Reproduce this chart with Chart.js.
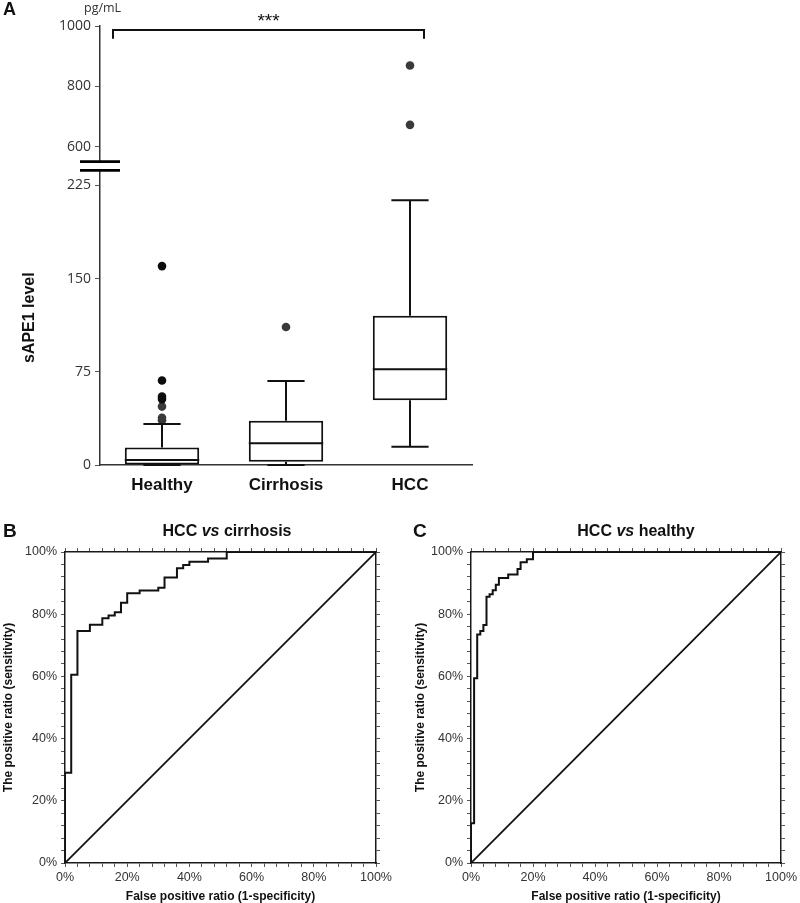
<!DOCTYPE html>
<html>
<head>
<meta charset="utf-8">
<script src="https://cdn.jsdelivr.net/npm/chart.js@4.4.1/dist/chart.umd.min.js"></script>
<style>
  body { margin: 0; background: #fff; }
  #wrap { position: relative; width: 800px; height: 903px; overflow: hidden; font-family: 'Liberation Sans', Arial, sans-serif; }
  canvas { position: absolute; }
  .lbl { position: absolute; line-height: 1; white-space: nowrap; color: #111; }
  .letter { font-weight: bold; font-size: 19px; }
  .ttl { font-weight: bold; font-size: 16px; transform: translateX(-50%); }
</style>
</head>
<body>
<div id="wrap">
  <canvas id="upA" width="480" height="174" style="left:0;top:0"></canvas>
  <canvas id="lowA" width="480" height="347" style="left:0;top:158px"></canvas>
  <canvas id="rocB" width="400" height="393" style="left:0;top:510px"></canvas>
  <canvas id="rocC" width="400" height="393" style="left:400px;top:510px"></canvas>

  <div class="lbl letter" style="left:3px;top:0px;font-size:18px">A</div>
  <div class="lbl" style="left:84px;top:2px;font-size:12.5px;font-family:'Open Sans';color:#333">pg/mL</div>
  <div class="lbl letter" style="left:3px;top:521px">B</div>
  <div class="lbl letter" style="left:413px;top:521px">C</div>
  <div class="lbl ttl" style="left:227px;top:523px">HCC <i>vs</i> cirrhosis</div>
  <div class="lbl ttl" style="left:636px;top:523px">HCC <i>vs</i> healthy</div>
</div>

<script>
//DADOS DO PAINEL A (box plot, pg/mL):
const groups = ['Healthy', 'Cirrhosis', 'HCC']
const whiskerLow = [0, 0, 14.7]
const q1 = [0.5, 2.7, 52]
const median = [4, 17.5, 77]
const q3 = [14, 35.5, 120]
const whiskerHigh = [33, 67.5, 213]
const healthyOutliers = [36, 38, 47, 53, 55, 68, 160]
const cirrhosisOutliers = [111]
const hccOutliers = [672, 869]
const upperTicks = [600, 800, 1000]
const lowerTicks = [0, 75, 150, 225]

//DADOS DAS CURVAS ROC (% falso positivo, % sensibilidade):
const fprB = [0, 0, 2, 4, 8, 12, 14, 16, 18, 20, 24, 30, 32, 36, 38, 40, 46, 52, 100]
const tprB = [0, 29, 60.5, 74.6, 76.6, 78.7, 79.6, 80.6, 83.7, 86.7, 87.6, 88.5, 91.8, 94.8, 95.8, 96.9, 97.9, 100, 100]
const fprC = [0, 0, 1, 2, 3, 4, 5, 6, 7, 8, 9, 12, 15, 16, 18, 20, 100]
const tprC = [0, 12.8, 59.4, 73.5, 74.6, 76.5, 85.6, 86.4, 87.7, 89.5, 91.6, 92.8, 94.5, 96.7, 97.7, 100, 100]
const rocMajor = [0, 20, 40, 60, 80, 100]

Chart.defaults.font.family = "'Liberation Sans', Arial, sans-serif"
Chart.defaults.color = '#333'

let outlierPoints = function(group, values, lo, hi) {
  return values.filter(v => v >= lo && v <= hi).map(v => ({ x: group, y: v }))
}

let allOutliers = function(lo, hi) {
  return [].concat(
    outlierPoints('Healthy', healthyOutliers, lo, hi),
    outlierPoints('Cirrhosis', cirrhosisOutliers, lo, hi),
    outlierPoints('HCC', hccOutliers, lo, hi)
  )
}

let outlierColor = function(c) {
  let p = c.raw
  return (p && p.x === 'Healthy' && p.y > 50) ? '#0d0d0d' : '#3a3a3a'
}

let yAxisA = function(min, max, tickList, title) {
  return {
    min: min, max: max,
    afterBuildTicks: s => { s.ticks = tickList.map(v => ({ value: v })) },
    ticks: { callback: v => String(v), font: { family: "'Open Sans'", size: 14 }, color: '#333', padding: 4 },
    grid: { drawOnChartArea: false, tickLength: 5, color: '#555' },
    border: { color: '#333', width: 1.5 },
    title: title,
    afterFit: s => { s.width = 100 }
  }
}

//Marcas de quebra do eixo
let breakMark = function(atTop) {
  return {
    id: 'break' + (atTop ? 'Top' : 'Bottom'),
    afterDraw(chart) {
      const ctx = chart.ctx, a = chart.chartArea
      const yy = atTop ? a.top : a.bottom
      ctx.save()
      ctx.strokeStyle = '#000'
      ctx.lineWidth = 2.6
      ctx.beginPath()
      ctx.moveTo(a.left - 20, yy)
      ctx.lineTo(a.left + 20, yy)
      ctx.stroke()
      ctx.restore()
    }
  }
}

//Colchete de significância
const bracketPlugin = {
  id: 'bracket',
  afterDraw(chart) {
    const ctx = chart.ctx, x = chart.scales.x, y = chart.scales.y
    const xl = x.getPixelForValue(0) - 49
    const xr = x.getPixelForValue(2) + 14
    const yt = y.getPixelForValue(987)
    const yb = y.getPixelForValue(958)
    ctx.save()
    ctx.strokeStyle = '#111'
    ctx.lineWidth = 2
    ctx.beginPath()
    ctx.moveTo(xl, yb); ctx.lineTo(xl, yt); ctx.lineTo(xr, yt); ctx.lineTo(xr, yb)
    ctx.stroke()
    ctx.fillStyle = '#111'
    ctx.font = "19px 'Liberation Sans', Arial"
    ctx.textAlign = 'center'
    ctx.textBaseline = 'alphabetic'
    ctx.fillText('***', (xl + xr) / 2, 27)
    ctx.restore()
  }
}

//Bigodes e medianas
const whiskerPlugin = {
  id: 'whiskers',
  afterDatasetsDraw(chart) {
    const ctx = chart.ctx, y = chart.scales.y
    const bars = chart.getDatasetMeta(0).data
    ctx.save()
    ctx.strokeStyle = '#111'
    ctx.lineWidth = 2
    bars.forEach((bar, i) => {
      const half = bar.width / 2, cap = bar.width / 4
      const ym = y.getPixelForValue(median[i])
      const yHi = y.getPixelForValue(whiskerHigh[i])
      const yLo = y.getPixelForValue(whiskerLow[i])
      ctx.beginPath()
      ctx.moveTo(bar.x - half, ym); ctx.lineTo(bar.x + half, ym)
      ctx.moveTo(bar.x, y.getPixelForValue(q3[i])); ctx.lineTo(bar.x, yHi)
      ctx.moveTo(bar.x - cap, yHi); ctx.lineTo(bar.x + cap, yHi)
      ctx.moveTo(bar.x, y.getPixelForValue(q1[i])); ctx.lineTo(bar.x, yLo)
      ctx.moveTo(bar.x - cap, yLo); ctx.lineTo(bar.x + cap, yLo)
      ctx.stroke()
    })
    ctx.restore()
  }
}

//PAINEL A - parte superior (600-1000)
new Chart(document.querySelector('#upA'), {
  type: 'scatter',
  data: {
    datasets: [{
      data: allOutliers(550, 1000),
      pointRadius: 4.3, pointBackgroundColor: outlierColor, pointBorderWidth: 0
    }]
  },
  options: {
    responsive: false, animation: false,
    layout: { padding: { top: 26, bottom: 4, left: 0, right: 8 }, autoPadding: false },
    plugins: { legend: { display: false }, tooltip: { enabled: false } },
    scales: {
      x: { type: 'category', labels: groups, offset: true, display: false },
      y: yAxisA(550, 1000, upperTicks, { display: false })
    }
  },
  plugins: [breakMark(false), bracketPlugin]
})

//PAINEL A - parte inferior (0-225)
new Chart(document.querySelector('#lowA'), {
  type: 'bar',
  data: {
    labels: groups,
    datasets: [{
      data: groups.map((g, i) => [q1[i], q3[i]]),
      backgroundColor: '#fff', borderColor: '#111', borderWidth: 2, borderSkipped: false,
      barPercentage: 0.6, categoryPercentage: 1
    }, {
      type: 'scatter',
      data: allOutliers(0, 237),
      pointRadius: 4.3, pointBackgroundColor: outlierColor, pointBorderWidth: 0
    }]
  },
  options: {
    responsive: false, animation: false,
    layout: { padding: { top: 4, bottom: 0, left: 0, right: 8 }, autoPadding: false },
    plugins: { legend: { display: false }, tooltip: { enabled: false } },
    scales: {
      x: {
        ticks: { font: { size: 17, weight: 'bold' }, color: '#111', padding: 10 },
        grid: { display: true, drawOnChartArea: false, drawTicks: false },
        border: { color: '#333', width: 1.5 },
        afterFit: s => { s.height = 40 }
      },
      y: yAxisA(0, 237, lowerTicks, {
        display: true, text: 'sAPE1 level', color: '#111',
        font: { size: 16, weight: 'bold' }, padding: { top: 20, bottom: 0 }
      })
    }
  },
  plugins: [breakMark(true), whiskerPlugin]
})

//PAINÉIS B e C - curvas ROC
function rocChart(sel, fpr, tpr, leftW, rightW, titlePad) {
  let minor = []
  for (let v = 0; v <= 100; v += 4) minor.push(v)
  const setTicks = s => { s.ticks = minor.map(v => ({ value: v })) }
  const lbl = v => rocMajor.includes(v) ? v + '%' : ''
  const grid = { drawOnChartArea: false, tickLength: 4, color: '#555' }
  const border = { color: '#1a1a1a', width: 1.5 }
  const tickFont = { size: 12.5 }
  const axisTitle = text => ({
    display: true, text: text, color: '#111',
    font: { size: 12, weight: 'bold', lineHeight: 1.1 }
  })

  new Chart(document.querySelector(sel), {
    type: 'scatter',
    data: {
      datasets: [{
        data: fpr.map((v, i) => ({ x: v, y: tpr[i] })),
        showLine: true, stepped: 'before', borderColor: '#111', borderWidth: 2,
        pointRadius: 0
      }, {
        data: [{ x: 0, y: 0 }, { x: 100, y: 100 }],
        showLine: true, borderColor: '#111', borderWidth: 1.8, pointRadius: 0
      }]
    },
    options: {
      responsive: false, animation: false,
      layout: { padding: 0, autoPadding: false },
      plugins: { legend: { display: false }, tooltip: { enabled: false } },
      scales: {
        x: {
          type: 'linear', position: 'bottom', min: 0, max: 100,
          afterBuildTicks: setTicks,
          ticks: { callback: lbl, autoSkip: false, maxRotation: 0, font: tickFont, color: '#333', padding: 3 },
          grid: grid, border: border,
          title: Object.assign(axisTitle('False positive ratio (1-specificity)'), { padding: { top: 4, bottom: 0 } }),
          afterFit: s => { s.height = 40 }
        },
        x2: {
          type: 'linear', axis: 'x', position: 'top', min: 0, max: 100,
          afterBuildTicks: setTicks,
          ticks: { callback: () => '', autoSkip: false },
          grid: grid, border: border,
          afterFit: s => { s.height = 42 }
        },
        y: {
          type: 'linear', position: 'left', min: 0, max: 100,
          afterBuildTicks: setTicks,
          ticks: { callback: lbl, autoSkip: false, font: tickFont, color: '#333', padding: 4 },
          grid: grid, border: border,
          title: Object.assign(axisTitle('The positive ratio (sensitivity)'), { padding: { top: titlePad, bottom: 0 } }),
          afterFit: s => { s.width = leftW }
        },
        y2: {
          type: 'linear', axis: 'y', position: 'right', min: 0, max: 100,
          afterBuildTicks: setTicks,
          ticks: { callback: () => '', autoSkip: false },
          grid: grid, border: border,
          afterFit: s => { s.width = rightW }
        }
      }
    }
  })
}

rocChart('#rocB', fprB, tprB, 65, 24, 2)
rocChart('#rocC', fprC, tprC, 71, 18, 14)
</script>
</body>
</html>
